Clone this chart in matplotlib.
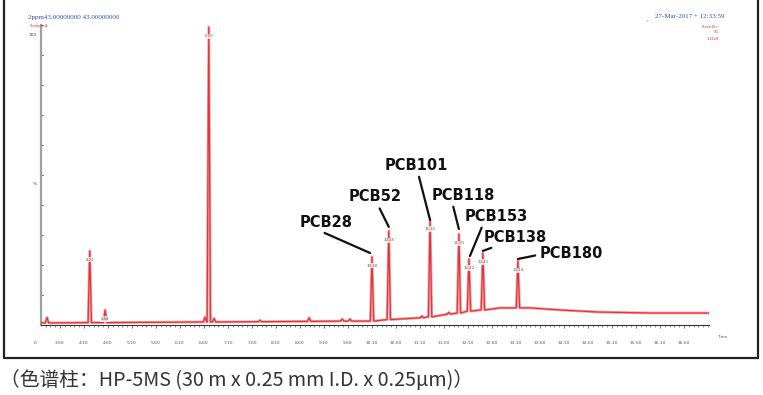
import numpy as np
import matplotlib.pyplot as plt
from matplotlib.lines import Line2D

# baseline drift of the TIC trace (time in min, %)
base_t = [3.20, 4.43, 6.52, 8.60, 9.85, 10.68, 11.25, 11.73, 12.35, 12.77, 13.39, 14.02, 14.85, 15.89, 17.12]
base_y = [0.7, 0.8, 1.0, 1.2, 1.3, 2.0, 2.7, 3.7, 5.0, 5.7, 5.7, 5.0, 4.3, 4.0, 4.0]

# labelled peaks: retention time, apex, foot
main_t = [4.22, 4.54, 6.70, 10.10, 10.45, 11.31, 11.91, 12.12, 12.41, 13.14]
main_top = [24.7, 5.0, 99.3, 22.7, 31.3, 35.0, 30.3, 22.0, 24.0, 21.3]
main_foot = [0.8, 0.8, 1.0, 1.3, 1.8, 2.7, 4.0, 4.6, 5.0, 5.7]
main_lab = ["4.22", "4.54", "6.70", "10.10", "10.45", "11.31", "11.91", "12.12", "12.41", "13.14"]

# small unlabelled bumps
minor_t = [3.33, 6.62, 6.81, 7.77, 8.79, 9.48, 9.64, 11.14, 11.70]
minor_top = [2.5, 2.6, 2.2, 1.6, 2.4, 2.0, 2.0, 3.0, 4.2]
minor_foot = [0.7, 1.0, 1.0, 1.1, 1.2, 1.3, 1.3, 2.4, 3.6]

pcb_names = ["PCB28", "PCB52", "PCB101", "PCB118", "PCB153", "PCB138", "PCB180"]
pcb_peak = [3, 4, 5, 6, 7, 8, 9]  # index in main_t

x_major = np.arange(3.6, 16.61, 0.5)

# build the trace
pts = list(zip(base_t, base_y))
for t, top, foot in zip(main_t + minor_t, main_top + minor_top, main_foot + minor_foot):
    hw = 0.035
    pts += [(t - hw, foot), (t, top), (t + hw, foot)]
pts.sort(key=lambda p: p[0])
tr_t = [p[0] for p in pts]
tr_y = [p[1] for p in pts]

W, H = 763, 395
fig = plt.figure(figsize=(W / 100, H / 100), dpi=100)
ax = fig.add_axes([41 / W, (H - 325) / H, 668 / W, 300 / H])
ax.set_xlim(3.6 - 19 / 48, 3.6 + 649 / 48)
ax.set_ylim(0, 100)

ax.plot(tr_t, tr_y, color="#f4a3a6", lw=2.0, solid_joinstyle="round", zorder=2)
ax.plot(tr_t, tr_y, color="#e3343c", lw=0.9, zorder=3)

for t, top, lab in zip(main_t, main_top, main_lab):
    ax.text(t, top - 3, lab, ha="center", va="center", fontsize=2.8, color="#555",
            bbox=dict(boxstyle="square,pad=0.15", fc="white", ec="none", alpha=0.75), zorder=4)

# PCB annotations (text centre, relpos of leader start, leader end offset)
txt_pos = [(9.142, 34.3), (10.162, 42.7), (11.017, 53.3), (11.996, 43.3),
           (12.683, 36.3), (13.079, 29.3), (14.246, 23.7)]
rel = [(0.33, 0), (0.55, 0), (0.53, 0), (0.33, 0), (0.3, 0), (0.3, 0.05), (0, 0.45)]
end_dy = [1.3, 1.4, 0.0, 1.7, 1.0, 0.7, 0.7]
end_dx = [-0.04, 0, 0, 0, 0.02, 0, 0]
for name, i, pos, rp, dy, dx in zip(pcb_names, pcb_peak, txt_pos, rel, end_dy, end_dx):
    ax.annotate(name, xy=(main_t[i] + dx, main_top[i] + dy), xytext=pos,
                ha="center", va="center", fontsize=10.5, fontweight="bold", color="#111",
                arrowprops=dict(arrowstyle="-", color="#111", lw=1.6, relpos=rp,
                                shrinkA=1, shrinkB=0), zorder=5)

# axes styling
for s in ["top", "right"]:
    ax.spines[s].set_visible(False)
ax.spines["left"].set_color("#a0a0a0")
ax.spines["left"].set_linewidth(1.6)
ax.spines["bottom"].set_color("#333")
ax.spines["bottom"].set_linewidth(0.8)
ax.set_xticks(x_major)
ax.set_xticklabels(["%.2f" % v for v in x_major])
ax.set_xticks(np.arange(3.3, 17.11, 0.1), minor=True)
ax.tick_params(axis="x", which="major", length=2.5, width=0.5, color="#444",
               labelsize=3.2, labelcolor="#555", pad=9)
ax.tick_params(axis="x", which="minor", length=1.5, width=0.4, color="#444")
ax.set_yticks(np.arange(0, 101, 10))
ax.set_yticklabels([])
ax.tick_params(axis="y", length=1.5, width=0.6, color="#333", direction="in")

ax.text(-0.006, 0.965, "100", transform=ax.transAxes, fontsize=3.2, color="#444", ha="right", va="center")
ax.text(-0.006, 0.47, "%", transform=ax.transAxes, fontsize=3.2, color="#444", ha="right", va="center")
ax.text(-0.006, -0.06, "0", transform=ax.transAxes, fontsize=3.2, color="#444", ha="right", va="center")
ax.text(1.012, -0.04, "Time", transform=ax.transAxes, fontsize=3.0, color="#555", ha="left", va="center")

# header texts
fig.text(28 / W, 1 - 17 / H, "2ppm43.00000000 43.00000000", fontsize=5, color="#2d4fa6",
         family="Liberation Serif", ha="left", va="center")
fig.text(30 / W, 1 - 26 / H, "Sample A", fontsize=2.6, color="#d33", ha="left", va="center")
fig.text(655 / W, 1 - 17 / H, "27-Mar-2017 + 12:33:59", fontsize=5, color="#2d4fa6",
         family="Liberation Serif", ha="left", va="center")
fig.text(647 / W, 1 - 19 / H, ",", fontsize=5, color="#2d4fa6", family="Liberation Serif", ha="left", va="center")
fig.text(710 / W, 1 - 27 / H, "Scan EI+", fontsize=2.6, color="#d33", ha="center", va="center")
fig.text(716 / W, 1 - 32 / H, "TIC", fontsize=2.6, color="#d33", ha="center", va="center")
fig.text(713 / W, 1 - 39 / H, "1.21e8", fontsize=2.6, color="#d33", ha="center", va="center")

# outer frame (top edge lies outside the picture)
fx = [4 / W, 4 / W, 758 / W, 758 / W]
fy = [1.0, 1 - 358 / H, 1 - 358 / H, 1.0]
fig.add_artist(Line2D(fx, fy, color="#222", lw=1.6))

# caption
fig.text(0 / W, 1 - 381 / H, "（色谱柱：HP-5MS (30 m x 0.25 mm I.D. x 0.25μm)）", fontsize=14.2,
         color="#333", family=["Noto Sans CJK SC", "DejaVu Sans"], ha="left", va="center")

fig.savefig("out.png", dpi=100)
